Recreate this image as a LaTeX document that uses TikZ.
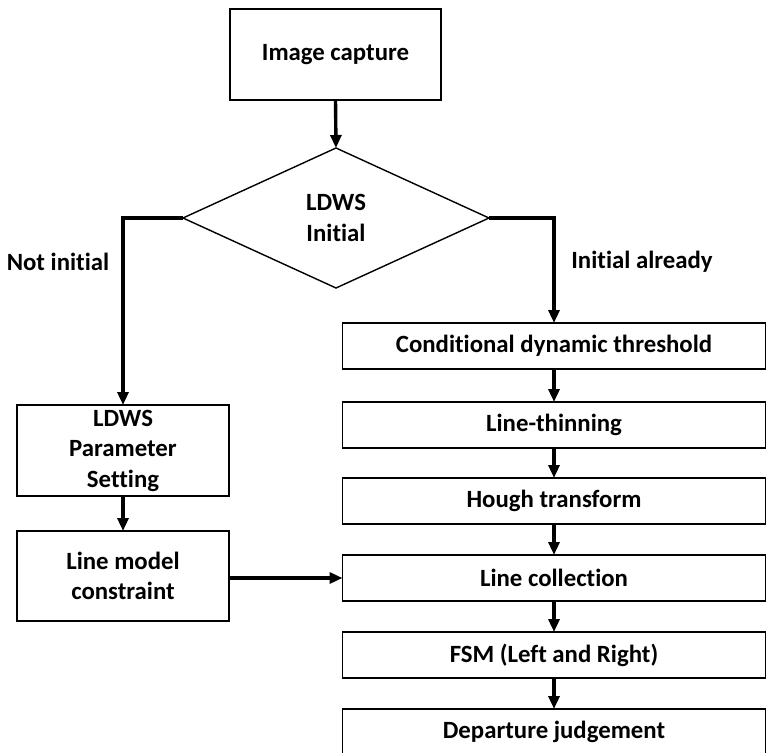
\documentclass[tikz,border=0pt]{standalone}
\usepackage{fontspec}
\setmainfont{Carlito}[Ligatures=NoCommon]
\usetikzlibrary{arrows.meta,shapes.geometric}

\begin{document}
\begin{tikzpicture}[x=1pt,y=-1pt,
  every node/.style={font=\fontsize{24.8}{30.5}\selectfont\bfseries, align=center},
  stepbox/.style={draw, line width=1.4pt, fill=white, inner sep=0pt, outer sep=0pt},
  decbox/.style={draw, diamond, line width=1.4pt, fill=white, inner sep=0pt, outer sep=0pt,
                 minimum width=306pt, minimum height=140pt},
  flow/.style={line width=3.4pt, -{Triangle[length=13pt,width=11pt]}},
  lbl/.style={inner sep=0pt}]
  \useasboundingbox (0,0) rectangle (767,752);

  % top of the chart
  \node[stepbox, minimum width=211pt, minimum height=91pt] (cap) at (335.5,54.5) {Image capture};
  \node[decbox] (dec) at (336,218) {LDWS\\Initial};

  % left branch
  \node[stepbox, minimum width=212pt, minimum height=91pt] (par) at (123,450.5) {LDWS\\Parameter\\Setting};
  \node[stepbox, minimum width=212pt, minimum height=90pt] (lmc) at (123,576) {Line model\\constraint};

  % right branch
  \node[stepbox, minimum width=423pt, minimum height=46pt] (cdt) at (554,346) {Conditional dynamic threshold};
  \node[stepbox, minimum width=423pt, minimum height=46pt] (thin) at (554,425) {Line-thinning};
  \node[stepbox, minimum width=423pt, minimum height=46pt] (hough) at (554,501) {Hough transform};
  \node[stepbox, minimum width=423pt, minimum height=46pt] (coll) at (554,578) {Line collection};
  \node[stepbox, minimum width=423pt, minimum height=46pt] (fsm) at (554,655) {FSM (Left and Right)};
  \node[stepbox, minimum width=423pt, minimum height=46pt] (dep) at (554,732) {Departure judgement};

  % branch labels
  \node[lbl] (ni) at (58,262) {Not initial};
  \node[lbl] (ia) at (642,262) {Initial already};

  % connectors
  \draw[flow] (cap.south) -- (dec.north);
  \draw[flow] (dec.west) -| (par.north);
  \draw[flow] (dec.east) -| (cdt.north);
  \draw[flow] (par.south) -- (lmc.north);
  \draw[flow] (lmc.east |- coll.west) -- (coll.west);
  \draw[flow] (cdt.south) -- (thin.north);
  \draw[flow] (thin.south) -- (hough.north);
  \draw[flow] (hough.south) -- (coll.north);
  \draw[flow] (coll.south) -- (fsm.north);
  \draw[flow] (fsm.south) -- (dep.north);
\end{tikzpicture}
\end{document}
